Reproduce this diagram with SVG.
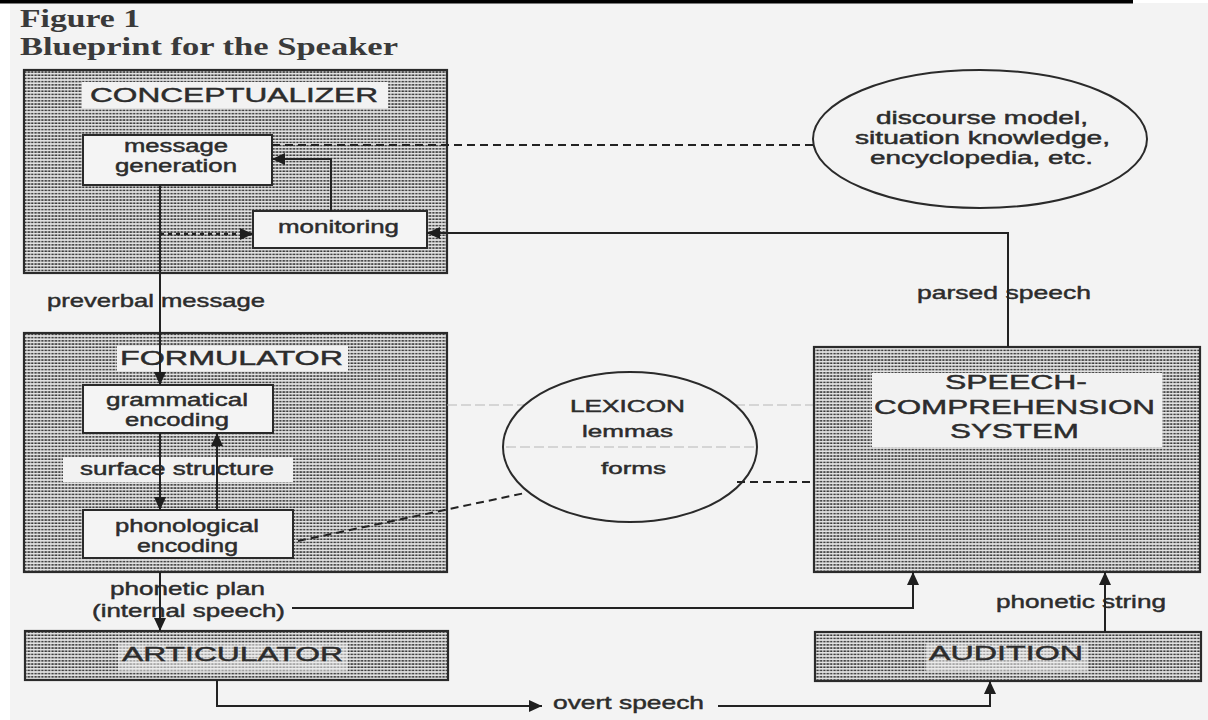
<svg xmlns="http://www.w3.org/2000/svg" width="1208" height="720" viewBox="0 0 1208 720">
<defs>
<pattern id="dots" width="3.4" height="3.2" patternUnits="userSpaceOnUse">
<rect width="3.4" height="3.2" fill="#e2e2e2"/>
<rect x="0.4" y="0.9" width="2.4" height="1.5" fill="#363636"/>
</pattern>
<marker id="arr" markerUnits="userSpaceOnUse" markerWidth="14" markerHeight="12" refX="13" refY="6" orient="auto">
<path d="M0,0 L13,6 L0,12 z" fill="#1e1e1e"/>
</marker>
<style>
.box{fill:url(#dots);stroke:#2a2a2a;stroke-width:2.2}
.inner{fill:#f4f4f4;stroke:#2a2a2a;stroke-width:2}
.lbl{fill:#f2f2f2}
.lblsoft{fill:#f2f2f2;opacity:0.55}
.ell{fill:none;stroke:#2a2a2a;stroke-width:2}
.t{font-family:"Liberation Sans",Arial,sans-serif;fill:#2c2c2c;stroke:#2c2c2c;stroke-width:0.45}
.cap{font-size:21px}
.sm{font-size:19px}
.bx{font-size:18px}
.ti{font-family:"Liberation Serif","Times New Roman",serif;font-weight:bold;fill:#3a3a3a;font-size:26px}
.c{fill:none;stroke:#222;stroke-width:2}
.a{marker-end:url(#arr)}
.dash{stroke-dasharray:8 5}
.dot{stroke-dasharray:4 4;stroke-width:2.4}
.faint{fill:none;stroke:#b8b8b8;stroke-width:1.2;stroke-dasharray:10 4}
</style>
</defs>
<rect width="1208" height="720" fill="#ffffff"/>
<rect x="10" y="3" width="1198" height="717" fill="#f3f3f3"/>
<rect x="0" y="0" width="1133" height="3.5" fill="#000"/>

<g id="title">
<text class="ti" x="20" y="27" textLength="120" lengthAdjust="spacingAndGlyphs">Figure 1</text>
<text class="ti" x="20" y="55" textLength="378" lengthAdjust="spacingAndGlyphs">Blueprint for the Speaker</text>
</g>

<g id="conceptualizer">
<rect class="box" x="24" y="70" width="423" height="203"/>
<rect class="lbl" x="82" y="82" width="306" height="26"/>
<text class="t cap" x="90" y="102" textLength="288" lengthAdjust="spacingAndGlyphs">CONCEPTUALIZER</text>
</g>
<g id="message-generation">
<rect class="inner" x="83" y="135" width="189" height="50"/>
<text class="t bx" x="124" y="152" textLength="104" lengthAdjust="spacingAndGlyphs">message</text>
<text class="t bx" x="115" y="172" textLength="122" lengthAdjust="spacingAndGlyphs">generation</text>
</g>
<g id="monitoring">
<rect class="inner" x="253" y="211" width="174" height="37"/>
<text class="t sm" x="278" y="233" textLength="121" lengthAdjust="spacingAndGlyphs">monitoring</text>
</g>

<g id="knowledge">
<ellipse class="ell" cx="980" cy="139" rx="167" ry="69"/>
<text class="t bx" x="876" y="124" textLength="212" lengthAdjust="spacingAndGlyphs">discourse model,</text>
<text class="t bx" x="855" y="144" textLength="255" lengthAdjust="spacingAndGlyphs">situation knowledge,</text>
<text class="t bx" x="870" y="164" textLength="223" lengthAdjust="spacingAndGlyphs">encyclopedia, etc.</text>
</g>

<g id="formulator">
<rect class="box" x="24" y="333" width="423" height="239"/>
<rect class="lbl" x="117" y="346" width="231" height="25"/>
<text class="t cap" x="120" y="365" textLength="223" lengthAdjust="spacingAndGlyphs">FORMULATOR</text>
<rect class="lbl" x="63" y="457" width="230" height="25"/>
<text class="t sm" x="80" y="475" textLength="194" lengthAdjust="spacingAndGlyphs">surface structure</text>
</g>
<g id="grammatical-encoding">
<rect class="inner" x="83" y="385" width="190" height="48"/>
<text class="t bx" x="106" y="406" textLength="142" lengthAdjust="spacingAndGlyphs">grammatical</text>
<text class="t bx" x="125" y="426" textLength="104" lengthAdjust="spacingAndGlyphs">encoding</text>
</g>
<g id="phonological-encoding">
<rect class="inner" x="83" y="510" width="210" height="48"/>
<text class="t bx" x="115" y="532" textLength="144" lengthAdjust="spacingAndGlyphs">phonological</text>
<text class="t bx" x="137" y="552" textLength="101" lengthAdjust="spacingAndGlyphs">encoding</text>
</g>

<g id="lexicon">
<path class="faint" d="M447,405 H525 M735,405 H813"/>
<ellipse class="ell" cx="630" cy="447" rx="127" ry="75"/>
<path class="faint" d="M506,447 H754"/>
<text class="t" font-size="17" x="570" y="412" textLength="115" lengthAdjust="spacingAndGlyphs">LEXICON</text>
<text class="t" font-size="17" x="582" y="437" textLength="91" lengthAdjust="spacingAndGlyphs">lemmas</text>
<text class="t" font-size="17" x="601" y="474" textLength="65" lengthAdjust="spacingAndGlyphs">forms</text>
</g>

<g id="speech-comprehension">
<rect class="box" x="814" y="347" width="386" height="225"/>
<rect class="lbl" x="872" y="373" width="290" height="74"/>
<text class="t" font-size="20" x="945" y="389" textLength="142" lengthAdjust="spacingAndGlyphs">SPEECH-</text>
<text class="t" font-size="20" x="874" y="414" textLength="281" lengthAdjust="spacingAndGlyphs">COMPREHENSION</text>
<text class="t" font-size="20" x="950" y="438" textLength="129" lengthAdjust="spacingAndGlyphs">SYSTEM</text>
</g>

<g id="articulator">
<rect class="box" x="25" y="631" width="423" height="49"/>
<rect class="lblsoft" x="118" y="643" width="230" height="28"/>
<text class="t cap" x="122" y="661" textLength="221" lengthAdjust="spacingAndGlyphs">ARTICULATOR</text>
</g>

<g id="audition">
<rect class="box" x="815" y="632" width="386" height="49"/>
<rect class="lblsoft" x="926" y="643" width="162" height="28"/>
<text class="t cap" x="929" y="660" textLength="154" lengthAdjust="spacingAndGlyphs">AUDITION</text>
</g>

<g id="labels">
<text class="t sm" x="47" y="307" textLength="218" lengthAdjust="spacingAndGlyphs">preverbal message</text>
<text class="t sm" x="917" y="299" textLength="174" lengthAdjust="spacingAndGlyphs">parsed speech</text>
<text class="t sm" x="110" y="595" textLength="155" lengthAdjust="spacingAndGlyphs">phonetic plan</text>
<text class="t sm" x="92" y="617" textLength="193" lengthAdjust="spacingAndGlyphs">(internal speech)</text>
<text class="t sm" x="553" y="709" textLength="151" lengthAdjust="spacingAndGlyphs">overt speech</text>
<text class="t sm" x="996" y="608" textLength="170" lengthAdjust="spacingAndGlyphs">phonetic string</text>
</g>

<g id="connectors">
<path class="c a" d="M160,185 V385"/>
<path class="c a dot" d="M160,234 H253"/>
<path class="c a" d="M331,211 V159 H272"/>
<path class="c dash" d="M272,145 H813"/>
<path class="c a" d="M1008,347 V233 H427"/>
<path class="c a" d="M160,433 V510"/>
<path class="c a" d="M217,510 V433"/>
<path class="c dash" d="M298,541 L525,493"/>
<path class="c dash" d="M737,482 H814"/>
<path class="c a" d="M160,572 V631"/>
<path class="c a" d="M292,608 H913 V572"/>
<path class="c a" d="M217,680 V706 H542"/>
<path class="c a" d="M718,706 H990 V681"/>
<path class="c a" d="M1105,632 V572"/>
</g>
</svg>
